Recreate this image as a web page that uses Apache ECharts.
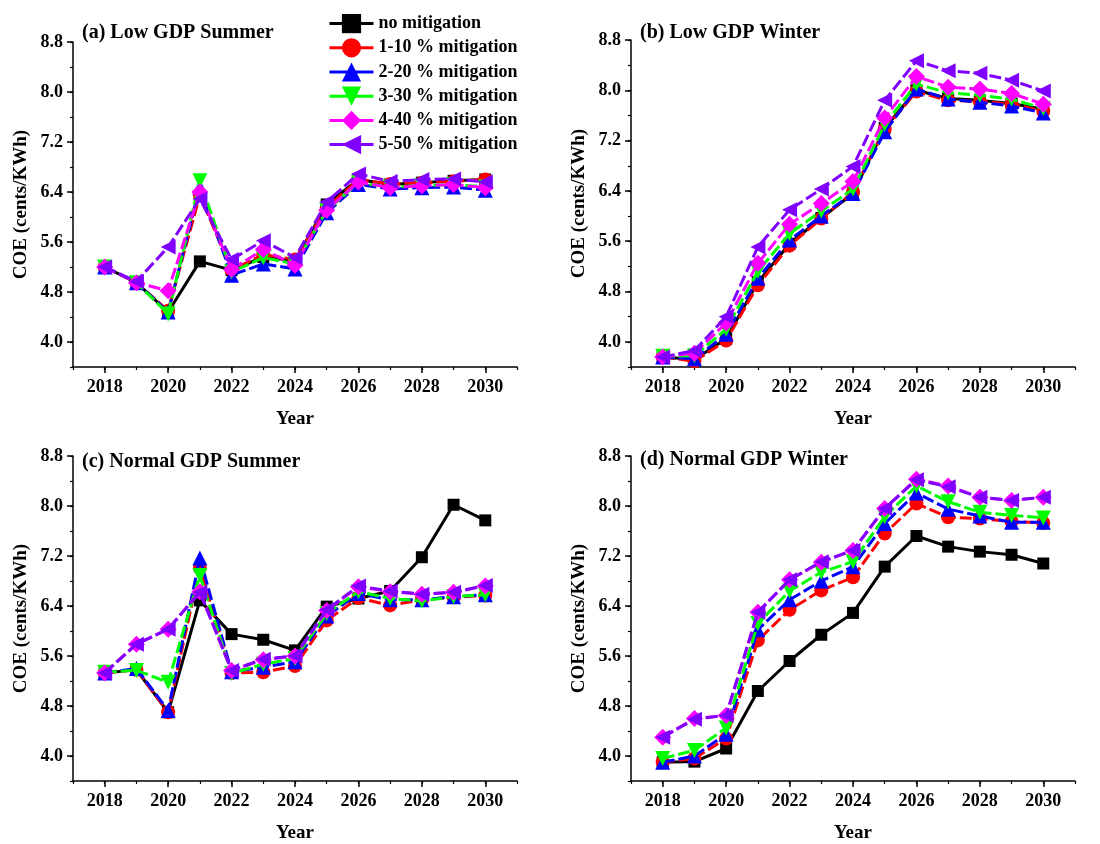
<!DOCTYPE html>
<html>
<head>
<meta charset="utf-8">
<script src="https://cdn.jsdelivr.net/npm/echarts@6/dist/echarts.min.js"></script>
<style>
html,body{margin:0;padding:0;background:#fff;}
#chart{width:1100px;height:844px;}
</style>
</head>
<body>
<div id="chart"></div>
<script>
const years = [2018, 2019, 2020, 2021, 2022, 2023, 2024, 2025, 2026, 2027, 2028, 2029, 2030];
const seriesNames = ['no mitigation', '1-10 % mitigation', '2-20 % mitigation', '3-30 % mitigation', '4-40 % mitigation', '5-50 % mitigation'];
const panelTitles = ['(a) Low GDP Summer', '(b) Low GDP Winter', '(c) Normal GDP Summer', '(d) Normal GDP Winter'];
const yTickLabels = [4.0, 4.8, 5.6, 6.4, 7.2, 8.0, 8.8];
const xTickLabels = [2018, 2020, 2022, 2024, 2026, 2028, 2030];

// (a) Low GDP Summer
const lowSummerNone = [5.20, 4.95, 4.48, 5.29, 5.15, 5.36, 5.30, 6.20, 6.60, 6.52, 6.55, 6.58, 6.60];
const lowSummer10 = [5.20, 4.95, 4.50, 6.35, 5.15, 5.40, 5.32, 6.15, 6.60, 6.53, 6.55, 6.57, 6.60];
const lowSummer20 = [5.20, 4.95, 4.48, 6.48, 5.07, 5.25, 5.17, 6.07, 6.52, 6.45, 6.47, 6.48, 6.43];
const lowSummer30 = [5.20, 4.95, 4.45, 6.58, 5.12, 5.35, 5.25, 6.10, 6.55, 6.48, 6.50, 6.52, 6.48];
const lowSummer40 = [5.20, 4.95, 4.82, 6.40, 5.16, 5.48, 5.23, 6.11, 6.56, 6.47, 6.50, 6.52, 6.47];
const lowSummer50 = [5.20, 4.97, 5.52, 6.29, 5.32, 5.62, 5.35, 6.24, 6.69, 6.57, 6.60, 6.61, 6.56];

// (b) Low GDP Winter
const lowWinterNone = [3.76, 3.72, 4.05, 4.95, 5.56, 5.97, 6.36, 7.40, 8.00, 7.87, 7.84, 7.79, 7.70];
const lowWinter10 = [3.76, 3.69, 4.02, 4.90, 5.53, 5.96, 6.38, 7.38, 7.98, 7.84, 7.82, 7.78, 7.67];
const lowWinter20 = [3.76, 3.73, 4.12, 5.01, 5.62, 6.00, 6.36, 7.34, 8.02, 7.86, 7.81, 7.75, 7.64];
const lowWinter30 = [3.77, 3.78, 4.20, 5.12, 5.72, 6.08, 6.43, 7.46, 8.10, 7.96, 7.92, 7.86, 7.71];
const lowWinter40 = [3.76, 3.82, 4.30, 5.25, 5.87, 6.20, 6.55, 7.56, 8.22, 8.05, 8.02, 7.95, 7.78];
const lowWinter50 = [3.76, 3.86, 4.40, 5.51, 6.10, 6.43, 6.79, 7.84, 8.47, 8.31, 8.27, 8.16, 7.99];

// (c) Normal GDP Summer
const normSummerNone = [5.33, 5.38, 4.70, 6.49, 5.95, 5.86, 5.69, 6.39, 6.52, 6.64, 7.18, 8.02, 7.77];
const normSummer10 = [5.33, 5.38, 4.70, 7.01, 5.33, 5.34, 5.44, 6.17, 6.53, 6.41, 6.50, 6.54, 6.57];
const normSummer20 = [5.33, 5.40, 4.73, 7.17, 5.35, 5.42, 5.51, 6.24, 6.60, 6.50, 6.50, 6.55, 6.58];
const normSummer30 = [5.34, 5.37, 5.18, 6.89, 5.32, 5.47, 5.56, 6.28, 6.63, 6.52, 6.48, 6.55, 6.58];
const normSummer40 = [5.33, 5.79, 6.03, 6.63, 5.37, 5.54, 5.60, 6.33, 6.71, 6.63, 6.59, 6.62, 6.72];
const normSummer50 = [5.33, 5.79, 6.03, 6.62, 5.37, 5.55, 5.60, 6.34, 6.72, 6.64, 6.59, 6.62, 6.73];

// (d) Normal GDP Winter
const normWinterNone = [3.90, 3.91, 4.12, 5.04, 5.52, 5.94, 6.29, 7.03, 7.52, 7.35, 7.27, 7.22, 7.08];
const normWinter10 = [3.90, 3.96, 4.28, 5.85, 6.34, 6.65, 6.86, 7.56, 8.04, 7.82, 7.80, 7.75, 7.73];
const normWinter20 = [3.90, 4.00, 4.35, 6.02, 6.50, 6.80, 7.03, 7.72, 8.21, 7.95, 7.84, 7.74, 7.74];
const normWinter30 = [3.96, 4.09, 4.45, 6.12, 6.64, 6.94, 7.11, 7.83, 8.32, 8.07, 7.90, 7.85, 7.81];
const normWinter40 = [4.30, 4.60, 4.65, 6.30, 6.82, 7.10, 7.29, 7.96, 8.43, 8.32, 8.14, 8.09, 8.14];
const normWinter50 = [4.30, 4.59, 4.65, 6.30, 6.82, 7.11, 7.29, 7.96, 8.42, 8.31, 8.14, 8.09, 8.14];

const panels = [
  [lowSummerNone, lowSummer10, lowSummer20, lowSummer30, lowSummer40, lowSummer50],
  [lowWinterNone, lowWinter10, lowWinter20, lowWinter30, lowWinter40, lowWinter50],
  [normSummerNone, normSummer10, normSummer20, normSummer30, normSummer40, normSummer50],
  [normWinterNone, normWinter10, normWinter20, normWinter30, normWinter40, normWinter50]
];

const colors = ['#000000', '#ff0000', '#0000ff', '#00ff00', '#ff00ff', '#8000ff'];
const symbols = ['rect', 'circle', 'triangle', 'triangle', 'diamond', 'triangle'];
const symbolRot = [0, 0, 0, 180, 0, 90];
const symbolSizes = [12, 14, 15, 15, 17, 15];

const FONT = 'Liberation Serif';
const grids = [
  {left: 73, top: 42, width: 444, height: 325},
  {left: 631, top: 40, width: 444, height: 327},
  {left: 73, top: 456, width: 444, height: 326},
  {left: 631, top: 456, width: 444, height: 326}
];
const titlePos = [[82, 23], [640, 23], [82, 452], [640, 450]];

const xAxes = [], yAxes = [], series = [], titles = [];
grids.forEach((g, i) => {
  xAxes.push({
    type: 'value', gridIndex: i, min: 2017, max: 2031, interval: 1,
    axisLine: {show: true, lineStyle: {color: '#000', width: 1.5}},
    axisTick: {show: true, length: 6, lineStyle: {color: '#000', width: 1.5}, customValues: xTickLabels},
    axisLabel: {customValues: xTickLabels, formatter: v => String(v), color: '#000', fontFamily: FONT, fontWeight: 'bold', fontSize: 18, margin: 11},
    splitLine: {show: false},
    name: 'Year', nameLocation: 'middle', nameGap: 43,
    nameTextStyle: {color: '#000', fontFamily: FONT, fontWeight: 'bold', fontSize: 19}
  });
  xAxes.push({
    type: 'value', gridIndex: i, min: 2017, max: 2031, interval: 1, position: 'bottom',
    axisLine: {show: false},
    axisTick: {show: true, length: 3, lineStyle: {color: '#000', width: 1.2}},
    axisLabel: {show: false}, splitLine: {show: false}
  });
  yAxes.push({
    type: 'value', gridIndex: i, min: 3.6, max: 8.8, interval: 0.4,
    axisLine: {show: true, lineStyle: {color: '#000', width: 1.5}},
    axisTick: {show: true, length: 6, lineStyle: {color: '#000', width: 1.5}, customValues: yTickLabels},
    axisLabel: {customValues: yTickLabels, formatter: v => v.toFixed(1), color: '#000', fontFamily: FONT, fontWeight: 'bold', fontSize: 18, margin: 10},
    splitLine: {show: false},
    name: 'COE (cents/KWh)', nameLocation: 'middle', nameGap: 42,
    nameTextStyle: {color: '#000', fontFamily: FONT, fontWeight: 'bold', fontSize: 19}
  });
  yAxes.push({
    type: 'value', gridIndex: i, min: 3.6, max: 8.8, interval: 0.4, position: 'left',
    axisLine: {show: false},
    axisTick: {show: true, length: 3, lineStyle: {color: '#000', width: 1.2}},
    axisLabel: {show: false}, splitLine: {show: false}
  });
  titles.push({
    text: panelTitles[i], left: titlePos[i][0], top: titlePos[i][1], padding: 0,
    textStyle: {color: '#000', fontFamily: FONT, fontWeight: 'bold', fontSize: 20}
  });
  panels[i].forEach((vals, k) => {
    series.push({
      name: seriesNames[k], type: 'line',
      xAxisIndex: i * 2, yAxisIndex: i * 2,
      data: years.map((y, j) => [y, vals[j]]),
      symbol: symbols[k], symbolRotate: symbolRot[k], symbolSize: symbolSizes[k],
      showSymbol: true,
      lineStyle: {color: colors[k], width: 3, type: k === 0 ? 'solid' : [12, 4]},
      itemStyle: {color: colors[k], borderWidth: 0, opacity: 1},
      z: 2 + k,
      animation: false
    });
  });
});

const chart = echarts.init(document.getElementById('chart'), null, {renderer: 'canvas'});
chart.setOption({
  backgroundColor: '#fff',
  animation: false,
  title: titles,
  legend: {
    data: seriesNames, orient: 'vertical', left: 328, top: 14,
    itemWidth: 44, itemHeight: 24, itemGap: 5, padding: 0,
    lineStyle: {type: 'solid', width: 3},
    textStyle: {color: '#000', fontFamily: FONT, fontWeight: 'bold', fontSize: 18}
  },
  grid: grids,
  xAxis: xAxes,
  yAxis: yAxes,
  series: series
});
</script>
</body>
</html>
